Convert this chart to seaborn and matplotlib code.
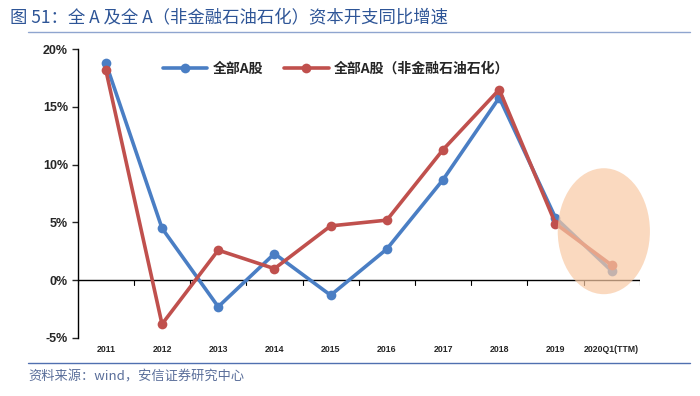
import numpy as np
import pandas as pd
import seaborn as sb
import matplotlib.pyplot as plt
from matplotlib.patches import Ellipse

years = ["2011", "2012", "2013", "2014", "2015", "2016", "2017", "2018", "2019", "2020Q1(TTM)"]
allA = [18.8, 4.5, -2.3, 2.3, -1.3, 2.7, 8.7, 15.8, 5.4, 0.8]
allAExFin = [18.2, -3.8, 2.6, 1.0, 4.7, 5.2, 11.3, 16.5, 4.9, 1.3]
seriesNames = ["全部A股", "全部A股（非金融石油石化）"]
yTicks = [-5, 0, 5, 10, 15, 20]

sb.set_style("white")
plt.rcParams['font.family'] = ['Noto Sans CJK SC', 'DejaVu Sans']

df = pd.DataFrame({
    "x": list(range(len(years))) * 2,
    "v": allA + allAExFin,
    "series": [seriesNames[0]] * len(years) + [seriesNames[1]] * len(years),
})

fig = plt.figure(figsize=(7, 3.96), dpi=100)
ax = fig.add_axes([0.111, 0.1465, 0.803, 0.7295])

sb.lineplot(data=df, x="x", y="v", hue="series", palette=["#4A7EC4", "#C0504D"],
            marker="o", markersize=7, markeredgewidth=0, linewidth=2.6, ax=ax)

ax.set_xlim(-0.5, 9.5)
ax.set_ylim(-5, 20)
ax.set_yticks(yTicks)
ax.set_yticklabels([f"{t}%" for t in yTicks], fontsize=9, fontweight="bold", family=["Liberation Sans", "DejaVu Sans"])
ax.set_xticks(range(len(years)))
ax.set_xticklabels(years, fontsize=6.3, fontweight="bold", family=["Liberation Sans Narrow", "Liberation Sans", "DejaVu Sans"])
ax.tick_params(axis="x", length=0, pad=5)
ax.tick_params(axis="y", direction="out", length=4, width=1, left=True, pad=3)
ax.set_xlabel("")
ax.set_ylabel("")
for s in ["top", "right", "bottom"]:
    ax.spines[s].set_visible(False)
ax.spines["left"].set_color("black")
ax.spines["left"].set_linewidth(1)

# zero line with boundary ticks
ax.axhline(0, color="black", linewidth=1, zorder=1)
for b in np.arange(-0.5, 10, 1):
    ax.plot([b, b], [0, -0.4], color="black", linewidth=0.8, zorder=1)

# highlight ellipse
ax.add_patch(Ellipse((8.86, 4.24), 1.64, 10.9, facecolor="#F8C9A4", alpha=0.7,
                     edgecolor="none", zorder=5, clip_on=False))

leg = ax.legend(loc="upper center", bbox_to_anchor=(0.46, 1.0), ncol=2, frameon=False,
                handlelength=3.2, columnspacing=1.5, handletextpad=0.4,
                prop={"weight": "bold", "size": 10})

fig.text(0.014, 0.955, "图 51：全 A 及全 A（非金融石油石化）资本开支同比增速", fontsize=12.5, color="#2E5597", va="center")
fig.add_artist(plt.Line2D([0.04, 0.986], [0.918, 0.918], color="#8FA5CF", linewidth=1))
fig.add_artist(plt.Line2D([0.04, 0.986], [0.083, 0.083], color="#5070B0", linewidth=1))
fig.text(0.04, 0.048, "资料来源：wind，安信证券研究中心", fontsize=9.5, color="#5A6E9A", style="italic", va="center")

plt.savefig("out.png", dpi=100)
